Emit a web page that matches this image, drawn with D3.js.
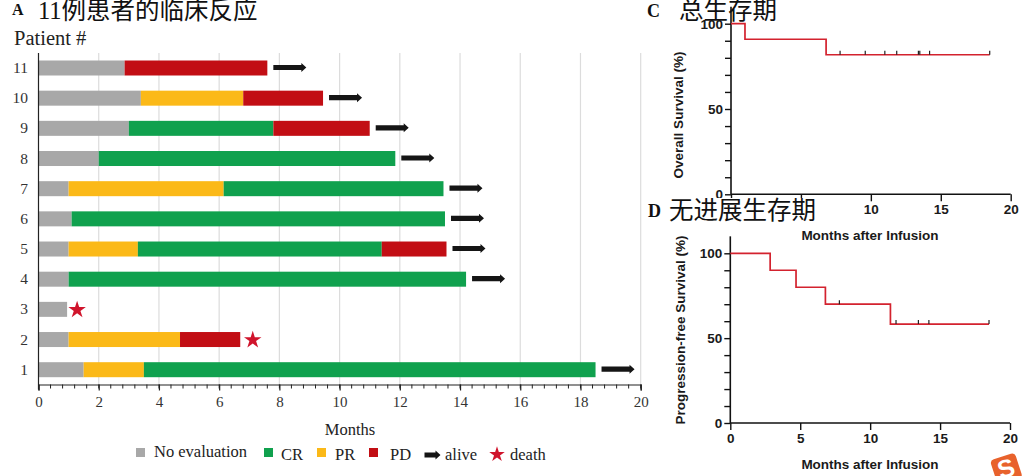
<!DOCTYPE html>
<html><head><meta charset="utf-8">
<script src="https://cdn.jsdelivr.net/npm/d3@7"></script>
<style>
html,body{margin:0;padding:0;background:#fff}
svg{display:block}
.serif{font-family:"Liberation Serif",serif;fill:#222}
.cjk{font-family:"Liberation Serif","Noto Sans CJK SC",serif;fill:#111}
.sans{font-family:"Liberation Sans",Arial,sans-serif;fill:#1a1a1a;font-weight:700}
</style></head><body>
<svg id="c" width="1024" height="476"></svg>
<script>
const patients=["1","2","3","4","5","6","7","8","9","10","11"];
const stageNames=["No evaluation","CR","PR","PD"];
const stageColors={"No evaluation":"#a8a8a8","CR":"#10a14e","PR":"#fbb918","PD":"#c20e14"};
const p1=[["No evaluation",1.5],["PR",3.5],["CR",18.5]];
const p2=[["No evaluation",1],["PR",4.7],["PD",6.7]];
const p3=[["No evaluation",0.95]];
const p4=[["No evaluation",1],["CR",14.2]];
const p5=[["No evaluation",1],["PR",3.3],["CR",11.4],["PD",13.55]];
const p6=[["No evaluation",1.1],["CR",13.5]];
const p7=[["No evaluation",1],["PR",6.15],["CR",13.45]];
const p8=[["No evaluation",2],["CR",11.85]];
const p9=[["No evaluation",3],["CR",7.8],["PD",11]];
const p10=[["No evaluation",3.4],["PR",6.8],["PD",9.45]];
const p11=[["No evaluation",2.86],["PD",7.6]];
const timelines=[p1,p2,p3,p4,p5,p6,p7,p8,p9,p10,p11];
const outcomes=["alive","death","death","alive","alive","alive","alive","alive","alive","alive","alive"];
const osSteps=[[0,100],[1,90.9],[6.8,81.8],[18.5,81.8]];
const osCensor=[7.8,9.6,11,11.85,13.4,13.5,14.2,18.5];
const pfsSteps=[[0,100],[2.85,90],[4.7,80],[6.8,70],[11.45,58.3],[18.5,58.3]];
const pfsCensor=[7.8,11.85,13.45,14.2,18.5];

const svg=d3.select("#c");
const star=d3.symbol().type(d3.symbolStar);
const red="#d0142c";

// Panel A
const x=d3.scaleLinear().domain([0,20]).range([38.5,640.7]);
const y=d3.scalePoint().domain(patients).range([369.7,68]);
const axisY=384.5, topY=53, barH=15;
const A=svg.append("g");
A.selectAll("line.g").data(d3.range(2,21,2)).join("line")
 .attr("x1",d=>x(d)).attr("x2",d=>x(d)).attr("y1",topY).attr("y2",axisY)
 .attr("stroke","#dcdcdc").attr("stroke-width",1.2);
patients.forEach((p,i)=>{
  let s=0;
  timelines[i].forEach(([st,e])=>{
    A.append("rect").attr("x",x(s)).attr("width",x(e)-x(s))
     .attr("y",y(p)-barH/2).attr("height",barH).attr("fill",stageColors[st]);
    s=e;
  });
  if(outcomes[i]==="alive") drawArrow(A,x(s)+6,y(p)-0.5,33);
  else {
    const sx=x(s)+(p==="3"?10:12.5);
    A.append("path").attr("d",star.size(95)()).attr("fill",red)
     .attr("transform",`translate(${sx},${y(p)+0.5})`);
  }
});
function drawArrow(g,x0,yc,len){
  const h=4,w=5,t=2.6;
  g.append("path").attr("fill","#151515").attr("d",
   `M${x0},${yc-t}H${x0+len-w}V${yc-h-.5}L${x0+len},${yc}L${x0+len-w},${yc+h+.5}V${yc+t}H${x0}Z`);
}
A.append("line").attr("x1",38.5).attr("x2",38.5).attr("y1",topY).attr("y2",axisY+5)
 .attr("stroke","#222").attr("stroke-width",1.2);
const ax=d3.axisBottom(x).tickValues(d3.range(0,20.01,2)).tickSize(6).tickPadding(6);
const gx=A.append("g").attr("transform",`translate(0,${axisY})`).call(ax);
gx.select(".domain").attr("stroke","#222").attr("stroke-width",1.2);
gx.selectAll(".tick line").attr("stroke","#222").attr("stroke-width",1.2);
gx.selectAll("text").attr("class","serif").style("font-size","15px").style("fill","#333");
gx.selectAll("line.m").data(d3.range(0,20.01,0.4)).join("line")
 .attr("x1",d=>x(d)).attr("x2",d=>x(d)).attr("y1",0).attr("y2",4).attr("stroke","#222").attr("stroke-width",1);
A.selectAll("text.pl").data(patients).join("text").attr("class","serif")
 .attr("x",28).attr("y",d=>y(d)+5).attr("text-anchor","end").style("font-size","15.5px").style("fill","#333").text(d=>d);
const txt=(t,xp,yp,size,cls,anchor)=>svg.append("text").attr("class",cls).attr("x",xp).attr("y",yp)
 .attr("text-anchor",anchor||"start").style("font-size",size+"px").text(t);
txt("Patient #",14,45,20.5,"serif");
txt("Months",350,435,16.5,"serif","middle");
// Legend
const legItems=[[stageNames[0],136,154,457],[stageNames[1],264,281,460],[stageNames[2],317,335,460],[stageNames[3],369,390,460]];
legItems.forEach(([n,sx,tx,ty])=>{
  svg.append("rect").attr("x",sx).attr("y",448).attr("width",9).attr("height",9).attr("fill",stageColors[n]);
  txt(n,tx,ty,16.5,"serif");
});
drawArrow(svg,424.5,455,16);
txt("alive",445,460,16.5,"serif");
svg.append("path").attr("d",star.size(75)()).attr("fill",red).attr("transform","translate(497,454.5)");
txt("death",510,460,16.5,"serif");

// KM panels
function km(o){
  const sx=d3.scaleLinear().domain([0,20]).range([o.x0,o.x1]);
  const sy=d3.scaleLinear().domain([0,110]).range([o.y0,o.y0-(o.y0-o.y100)*1.1]);
  const g=svg.append("g");
  const xa=d3.axisBottom(sx).tickValues([0,5,10,15,20]).tickSize(7).tickPadding(3);
  const ya=d3.axisLeft(sy).tickValues(d3.range(0,101,10)).tickSize(6).tickPadding(2)
     .tickFormat(d=>d%50===0?d:"");
  const gxx=g.append("g").attr("transform",`translate(0,${o.y0})`).call(xa);
  const gyy=g.append("g").attr("transform",`translate(${o.x0},0)`).call(ya);
  [gxx,gyy].forEach(a=>{
    a.select(".domain").attr("stroke","#111").attr("stroke-width",1.6).attr("d",null);
    a.selectAll(".tick line").attr("stroke","#111").attr("stroke-width",1.4);
    a.selectAll("text").attr("class","sans").style("font-size","13.5px").style("fill","#1a1a1a");
  });
  gyy.select(".domain").attr("d",`M0,${sy(110)}V${o.y0}`);
  gxx.select(".domain").attr("d",`M${o.x0},0H${o.x1}`);
  const line=d3.line().curve(d3.curveStepAfter).x(d=>sx(d[0])).y(d=>sy(d[1]));
  g.append("path").attr("d",line(o.steps)).attr("fill","none").attr("stroke","#d3222e").attr("stroke-width",1.7);
  const last=v=>o.steps.filter(d=>d[0]<=v).pop()[1];
  g.selectAll("line.c").data(o.censor).join("line")
   .attr("x1",d=>sx(d)).attr("x2",d=>sx(d)).attr("y1",d=>sy(last(d))-4).attr("y2",d=>sy(last(d)))
   .attr("stroke","#222").attr("stroke-width",1.2);
  g.append("text").attr("class","sans").attr("text-anchor","middle")
   .attr("transform",`translate(${o.lx},${(o.ly)}) rotate(-90)`).style("font-size","13.5px").text(o.ylabel);
  g.append("text").attr("class","sans").attr("text-anchor","middle")
   .attr("x",870).attr("y",o.xly).style("font-size","13.5px").text("Months after Infusion");
}
km({x0:731,x1:1010.7,y0:194.3,y100:23.7,steps:osSteps,censor:osCensor,ylabel:"Overall Survival (%)",lx:683,ly:115,xly:240});
km({x0:730.3,x1:1010,y0:423,y100:253.3,steps:pfsSteps,censor:pfsCensor,ylabel:"Progression-free Survival (%)",lx:685,ly:330,xly:469});

// Titles on top
svg.append("rect").attr("x",645).attr("y",198).attr("width",180).attr("height",27).attr("fill","#fff");
const ttl=(t,xp,yp,s,w)=>svg.append("text").attr("class","cjk").attr("x",xp).attr("y",yp)
  .style("font-size",s+"px").style("font-weight",w||400).text(t);
ttl("A",12,15,16,700);
ttl("11例患者的临床反应",38,19,24.5);
ttl("C",647,17,18,700);
ttl("总生存期",679,19,24.5);
ttl("D",648,217,18,700);
ttl("无进展生存期",669,219,24.5);
// Watermark badge
const wm=svg.append("g").attr("transform","translate(1006,468) rotate(-18)");
wm.append("rect").attr("x",-13).attr("y",-12).attr("width",26).attr("height",26).attr("rx",4).attr("fill","#e8622c");
wm.append("text").attr("text-anchor","middle").attr("y",9).attr("fill","#fff")
  .style("font-family","Liberation Sans").style("font-weight",700).style("font-size","25px").text("S");
</script>
</body></html>
